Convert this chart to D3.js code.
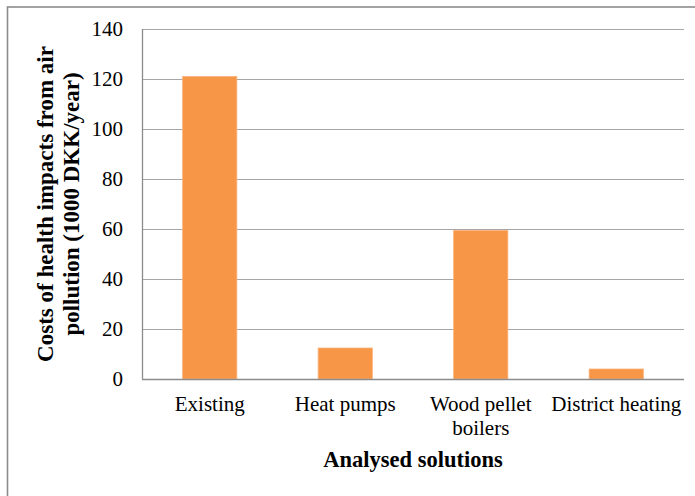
<!DOCTYPE html>
<html>
<head>
<meta charset="utf-8">
<script src="https://cdn.jsdelivr.net/npm/d3@7"></script>
<style>
  html, body { margin: 0; padding: 0; background: #fff; }
  svg { display: block; }
  text { font-family: "Liberation Serif", "Times New Roman", serif; fill: #000; }
</style>
</head>
<body>
<svg id="chart" width="695" height="496"></svg>
<script>
// Health-impact costs of air pollution per heating solution (1000 DKK/year)
const categories = ["Existing", "Heat pumps", "Wood pellet boilers", "District heating"];
const categoryLines = [["Existing"], ["Heat pumps"], ["Wood pellet", "boilers"], ["District heating"]];
const costs = [121, 12.4, 59.4, 4.0];
const yTicks = [0, 20, 40, 60, 80, 100, 120, 140];
const yTitleLines = ["Costs of health impacts from air", "pollution (1000 DKK/year)"];
const xTitle = "Analysed solutions";

const svg = d3.select("#chart");
const W = 695, H = 496;
const plot = { left: 142, right: 684, top: 29, bottom: 379 };

// outer chart frame (extends past the right and bottom edges)
svg.append("rect")
  .attr("x", 7.5).attr("y", 7)
  .attr("width", 720).attr("height", 520)
  .attr("fill", "#fff")
  .attr("stroke", "#8c8c8c")
  .attr("stroke-width", 1.6);

const x = d3.scaleBand()
  .domain(categories)
  .range([plot.left, plot.right])
  .paddingInner(0.6)
  .paddingOuter(0.3);

const y = d3.scaleLinear()
  .domain([0, 140])
  .range([plot.bottom, plot.top]);

// horizontal gridlines
const yAxis = d3.axisLeft(y).tickValues(yTicks).tickSize(0).tickPadding(19);
const gy = svg.append("g").attr("transform", `translate(${plot.left},0)`).call(yAxis);
gy.select(".domain").remove();
gy.selectAll(".tick text")
  .attr("font-size", 21)
  .attr("font-family", "Liberation Serif, Times New Roman, serif")
  .attr("fill", "#000")
  .attr("dy", "0.33em");

svg.append("g").selectAll("line")
  .data(yTicks.filter(t => t > 0))
  .join("line")
  .attr("x1", plot.left).attr("x2", plot.right)
  .attr("y1", d => Math.round(y(d)) + 0.5).attr("y2", d => Math.round(y(d)) + 0.5)
  .attr("stroke", "#a6a6a6")
  .attr("stroke-width", 1.2);

// bars
svg.append("g").selectAll("rect")
  .data(costs)
  .join("rect")
  .attr("x", (d, i) => x(categories[i]))
  .attr("y", d => y(d))
  .attr("width", x.bandwidth())
  .attr("height", d => y(0) - y(d))
  .attr("fill", "#f79646")
  .attr("stroke", "#fbb27a")
  .attr("stroke-width", 0.8);

// axis lines
svg.append("line")
  .attr("x1", plot.left + 0.5).attr("x2", plot.left + 0.5)
  .attr("y1", plot.top).attr("y2", plot.bottom)
  .attr("stroke", "#8c8c8c").attr("stroke-width", 1.3);
svg.append("line")
  .attr("x1", plot.left).attr("x2", plot.right)
  .attr("y1", Math.round(y(0)) + 0.5).attr("y2", Math.round(y(0)) + 0.5)
  .attr("stroke", "#8c8c8c").attr("stroke-width", 1.3);

// category labels
const cat = svg.append("g").selectAll("text")
  .data(categories)
  .join("text")
  .attr("text-anchor", "middle")
  .attr("font-size", 21)
  .attr("x", d => x(d) + x.bandwidth() / 2)
  .attr("y", plot.bottom + 32);
cat.each(function (d, i) {
  d3.select(this).selectAll("tspan")
    .data(categoryLines[i])
    .join("tspan")
    .attr("x", x(d) + x.bandwidth() / 2)
    .attr("dy", (t, j) => j === 0 ? 0 : 24)
    .text(t => t);
});

// axis titles
svg.append("text")
  .attr("x", (plot.left + plot.right) / 2)
  .attr("y", 467)
  .attr("text-anchor", "middle")
  .attr("font-size", 22.5)
  .attr("font-weight", "bold")
  .text(xTitle);

const yt = svg.append("text")
  .attr("transform", `translate(0,${(plot.top + plot.bottom) / 2}) rotate(-90)`)
  .attr("text-anchor", "middle")
  .attr("font-size", 23)
  .attr("font-weight", "bold");
yt.selectAll("tspan")
  .data(yTitleLines)
  .join("tspan")
  .attr("x", 0)
  .attr("y", (d, i) => 53 + i * 26)
  .text(d => d);
</script>
</body>
</html>
